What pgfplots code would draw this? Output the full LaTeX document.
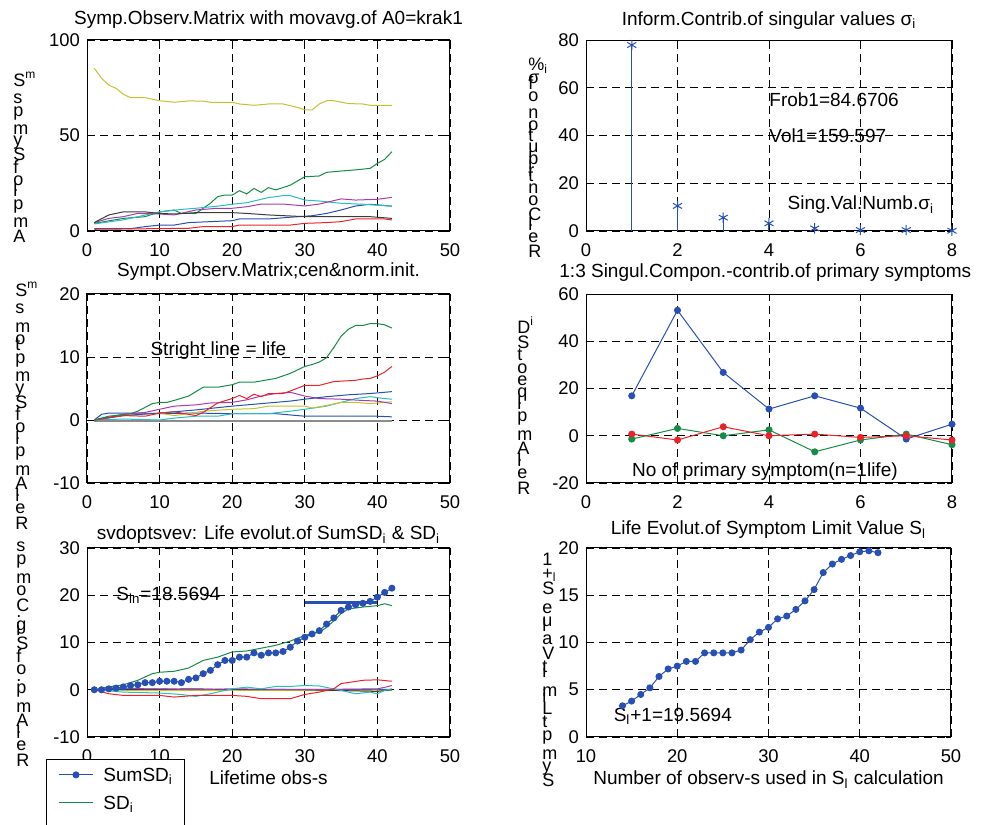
\documentclass[border=0pt]{standalone}
\usepackage{fontspec}
\setmainfont{Liberation Sans}
\usepackage{pgfplots}
\pgfplotsset{compat=1.18}
\definecolor{mb}{RGB}{40,80,180}
\definecolor{mg}{RGB}{20,140,70}
\definecolor{mr}{RGB}{235,35,40}
\definecolor{mc}{RGB}{40,190,195}
\definecolor{mm}{RGB}{170,60,170}
\definecolor{my}{RGB}{195,195,50}
\definecolor{mk}{RGB}{60,60,60}
\definecolor{mgr}{RGB}{140,140,140}
\newcommand\fsz{\fontsize{9.5}{11}\selectfont}
\newcommand\tsz{\fontsize{9.2}{11}\selectfont}
\newcommand\lsz{\fontsize{9}{11}\selectfont}
\makeatletter
\newdimen\vl@w
\def\vlfac{1.24}
\newcommand\vl@char[1]{\setbox\z@\hbox{#1}\vl@w=\vlfac\wd\z@\vbox to\vl@w{\vss\hbox{\smash{#1}}}}
\newcommand\vlab[2][1.24]{\def\vlfac{#1}\def\vl@acc{}\@tfor\vl@c:=#2\do{\edef\vl@acc{\noexpand\vl@char{\unexpanded\expandafter{\vl@c}}\unexpanded\expandafter{\vl@acc}}}\vbox{\offinterlineskip\lsz\vl@acc}}
\makeatother
\pgfplotsset{
  mat/.style={scale only axis, anchor=south west,
    axis line style={black,line width=0.5pt},
    tick align=inside, major tick length=2.5pt, tick style={black,line width=0.4pt},
    grid=major, major grid style={black,line width=0.4pt,dash pattern=on 4pt off 2.5pt},
    font=\fsz, every tick label/.append style={font=\tsz},
    xticklabel style={yshift=-3pt},
    every axis title/.style={at={(0.5,1)},anchor=base,font=\fsz,inner sep=0pt},
    every axis plot/.append style={line width=0.5pt},
    legend image code/.code={\draw[yshift=3.3pt,mark repeat=2,mark phase=2,##1] plot coordinates {(0pt,0pt) (8.5pt,0pt) (17pt,0pt)}; \path (22pt,3.3pt);}
  }
}
\begin{document}
\begin{tikzpicture}[font=\fsz]
\useasboundingbox (0,0) rectangle (491pt,412.5pt);
% ---------- top left
\begin{axis}[mat, at={(43.5pt,297pt)}, width=181.5pt, height=95.5pt,
  xmin=0,xmax=50,ymin=0,ymax=100,
  xtick={0,10,20,30,40,50}, xticklabels={0,10,20,30,40,50},
  ytick={0,50,100}, yticklabels={0,50,100},
  title={Symp.Observ.Matrix with movavg.of A0=krak1}, title style={yshift=7.5pt}]
\addplot[mb] coordinates {(1,1.2)(6,1.2)(8,2.3)(10,3.1)(12,3.1)(14,4.4)(20,5.4)(21,6.3)(25,6.3)(28,7.2)(31,8)(33,9.2)(35,11)(37,13.1)(39,14)(42,13)};
\addplot[mg] coordinates {(1,4)(5,6.6)(8,7.5)(10,10)(12,11)(13,9.2)(15,9.2)(17,14.5)(18,18)(19,18.8)(20,18.8)(21,21.1)(22,19.4)(23,22.3)(24,20.2)(25,22.7)(26,21.5)(28,24)(30,28.4)(32,28.8)(33,30.7)(35,31.4)(37,32)(39,32.8)(40,35.4)(41,37.5)(42,41.5)};
\addplot[mr] coordinates {(1,0.9)(14,1.4)(16,2.3)(20,2.3)(21,3.1)(28,3.1)(30,4)(33,4.4)(35,4.9)(37,6.3)(41,6.3)(42,5.8)};
\addplot[mc] coordinates {(1,3.7)(5,5.8)(10,10)(13,11.3)(15,11.9)(18,13)(20,14)(22,14.8)(25,17.5)(27,18.5)(28,18.5)(30,16.2)(32,15.7)(35,14.5)(38,14)(42,13)};
\addplot[mm] coordinates {(1,4.4)(3,6.6)(5,7.5)(7,9.2)(10,8.9)(12,8.4)(15,11)(18,11.9)(20,11.9)(22,12.7)(24,14.1)(27,14.1)(30,13.1)(32,14.1)(35,16.8)(37,16.2)(40,16.6)(42,17.6)};
\addplot[my] coordinates {(1,85.2)(2,80)(3,76.4)(4,74.7)(5,71.6)(6,69.8)(8,69.8)(10,68.2)(12,67.4)(14,68.1)(16,68)(17,67.4)(20,67.4)(21,66.5)(23,65.8)(25,66.5)(27,66.5)(29,64.7)(30,63.4)(31,63.4)(32,66.5)(33,68.2)(34,68.2)(36,66.7)(38,66.5)(39,65.8)(42,65.8)};
\addplot[mk] coordinates {(1,4.4)(3,8.4)(5,10)(8,10)(10,9.2)(12,8.9)(15,9.6)(20,9.6)(22,9.2)(25,8.4)(30,7.5)(35,7.5)(39,7.5)(42,6.6)};
\end{axis}
% ---------- top right
\begin{axis}[mat, at={(293pt,297pt)}, width=183pt, height=95.5pt,
  xmin=0,xmax=8,ymin=0,ymax=80,
  xtick={0,2,4,6,8}, xticklabels={0,2,4,6,8},
  ytick={0,20,40,60,80}, yticklabels={0,20,40,60,80},
  title={Inform.Contrib.of singular values σ\textsubscript{i}}, title style={yshift=7.5pt}]
\addplot[mb, ycomb, mark=asterisk, mark size=2.6pt] coordinates {(1,77.9)(2,10.5)(3,5.6)(4,3.2)(5,1.1)(6,0.4)(7,0.4)(8,0.1)};
\node[anchor=west,inner sep=0pt] at (axis cs:4,55) {Frob1=84.6706};
\node[anchor=west,inner sep=0pt] at (axis cs:4,40) {Vol1=159.597};
\node[anchor=west,inner sep=0pt] at (axis cs:4.4,11) {Sing.Val.Numb.σ\textsubscript{i}};
\end{axis}
% ---------- middle left
\begin{axis}[mat, at={(43.5pt,171pt)}, width=181.5pt, height=94.5pt,
  xmin=0,xmax=50,ymin=-10,ymax=20,
  xtick={0,10,20,30,40,50}, xticklabels={0,10,20,30,40,50},
  ytick={-10,0,10,20}, yticklabels={-10,0,10,20},
  title={Sympt.Observ.Matrix;cen\&norm.init.}, title style={yshift=8.5pt}]
\addplot[mgr, line width=0.8pt] coordinates {(1,-0.2)(10,-0.2)(20,-0.2)(30,-0.2)(42,-0.2)};
\addplot[mb] coordinates {(1,0)(2,0.9)(3,1.1)(7,1.1)(10,1)(15,1.1)(20,1)(26,1)(30,0.6)(40,0.6)(42,0.5)};
\addplot[mc] coordinates {(1,0)(5,0.15)(10,0)(12,0.3)(15,0.6)(18,0.6)(20,1)(25,1)(28,1.4)(30,1.7)(33,2.2)(35,2.8)(37,3.4)(39,3.7)(41,3.4)(42,3.3)};
\addplot[my] coordinates {(1,0)(5,0.7)(10,1.1)(12,0.7)(14,1)(16,1.4)(20,1.7)(23,1.8)(25,2.2)(30,2.2)(31,1.9)(33,2.3)(35,2.8)(37,2.8)(39,2.6)(42,2.9)};
\addplot[mm] coordinates {(1,0)(5,0.9)(8,1.2)(10,1.7)(12,2.2)(15,2.4)(17,2.7)(20,2.8)(22,3.2)(24,3.8)(26,4.2)(28,4.4)(30,3.8)(32,3.4)(35,3.3)(38,3.1)(40,3)(42,2.6)};
\addplot[mb] coordinates {(1,0)(5,0.7)(10,1.1)(15,1.6)(20,2.2)(25,2.7)(28,3)(30,3.3)(33,3.7)(36,4)(39,4.2)(42,4.5)};
\addplot[mr] coordinates {(1,0)(5,0.7)(8,0.6)(10,1.1)(12,1.3)(14,0.9)(15,0.7)(16,1.2)(18,2.7)(20,3.4)(21,3.9)(22,3.4)(23,4.1)(24,3.7)(25,4.2)(27,4.2)(28,4.6)(30,5.5)(32,5.5)(34,6.1)(37,6.3)(38,6.5)(39,6.6)(40,7)(41,7.6)(42,8.5)};
\addplot[mg] coordinates {(1,0)(3,0.6)(6,1)(7,1.4)(9,2.6)(10,2.8)(11,2.8)(12,3.1)(14,3.8)(16,5.2)(18,5.2)(20,5.6)(21,6)(23,6)(26,6.6)(28,7.4)(30,8.5)(31,8.8)(32,9.2)(33,9.9)(34,11.5)(35,13.3)(36,14.4)(37,15)(38,15)(39,15.3)(40,15.3)(41,15.1)(42,14.6)};
\node[anchor=west,inner sep=0pt] at (axis cs:8.7,11) {Stright line = life};
\end{axis}
% ---------- middle right
\begin{axis}[mat, at={(293pt,171pt)}, width=183pt, height=94.5pt,
  xmin=0,xmax=8,ymin=-20,ymax=60,
  xtick={0,2,4,6,8}, xticklabels={0,2,4,6,8},
  ytick={-20,0,20,40,60}, yticklabels={-20,0,20,40,60},
  title={1:3 Singul.Compon.-contrib.of primary symptoms}, title style={at={(0.49,1)},yshift=8.5pt}]
\addplot[mb, mark=*, mark size=1.5pt] coordinates {(1,16.9)(2,53.1)(3,26.8)(4,11.3)(5,16.9)(6,11.7)(7,-1.4)(8,4.9)};
\addplot[mg, mark=*, mark size=1.5pt] coordinates {(1,-1.4)(2,3.1)(3,0)(4,2.5)(5,-6.8)(6,-1.8)(7,0.7)(8,-3.8)};
\addplot[mr, mark=*, mark size=1.5pt] coordinates {(1,0.7)(2,-1.8)(3,3.8)(4,0)(5,0.7)(6,-0.7)(7,0)(8,-1.8)};
\node[anchor=west,inner sep=0pt] at (axis cs:1,-15) {No of primary symptom(n=1life)};
\end{axis}
% ---------- bottom left
\begin{axis}[mat, at={(43.5pt,44pt)}, width=181.5pt, height=94.5pt,
  xmin=0,xmax=50,ymin=-10,ymax=30,
  xtick={0,10,20,30,40,50}, xticklabels={0,10,20,30,40,50},
  ytick={-10,0,10,20,30}, yticklabels={-10,0,10,20,30},
  title={svdoptsvev: Life evolut.of SumSD\textsubscript{i} \& SD\textsubscript{i}}, title style={yshift=4pt},
  xlabel={Lifetime obs-s}, xlabel style={at={(0.5,0)},anchor=base,yshift=-24pt,inner sep=0pt},
  legend style={at={(-0.113,-0.1164)}, anchor=north west, draw=black, line width=0.5pt, fill=white,
    inner xsep=6pt, inner ysep=4pt, font=\fsz, row sep=0pt,
    nodes={inner sep=0pt, text height=7pt, text depth=7pt}},
  legend cell align=left]
\addplot[mb, forget plot] coordinates {(1,0)(5,0.2)(10,0.1)(20,0)(30,0.1)(42,0.1)};
\addplot[my, forget plot] coordinates {(1,0)(5,-0.1)(10,-0.2)(20,-0.1)(30,-0.2)(40,-0.1)(42,-0.2)};
\addplot[mk, forget plot] coordinates {(1,0)(10,0.1)(15,0.2)(20,0)(30,0)(40,-0.35)(42,0)};
\addplot[mm, forget plot] coordinates {(1,0)(3,0.6)(5,0.4)(8,0.2)(10,0.2)(15,0)(20,0.2)(30,0)(40,0.2)(41,0.5)(42,0.9)};
\addplot[mc, forget plot] coordinates {(1,0)(5,-0.5)(10,-0.7)(13,-1)(15,-1.4)(17,-0.85)(20,0.2)(22,0.55)(24,0.2)(26,0.7)(28,0.7)(30,0.9)(32,0.8)(35,-0.15)(37,-0.85)(39,-0.5)(40,-0.85)(41,-0.15)(42,0.2)};
\addplot[mr, forget plot] coordinates {(1,0)(3,-0.85)(5,-1.2)(10,-1.2)(12,-1.55)(15,-1.2)(20,-1.2)(22,-1.4)(24,-1.9)(28,-1.9)(30,-1)(32,-0.5)(34,0.2)(35,1.3)(38,2)(40,2.1)(42,1.8)};
\addplot[mb, mark=*, mark size=1.5pt] coordinates {(1,0)(2,0)(3,0.2)(4,0.35)(5,0.6)(6,0.9)(7,1.05)(8,1.5)(9,1.5)(10,1.8)(11,1.8)(12,1.8)(13,1.5)(14,2.2)(15,2.5)(16,3.4)(17,4.1)(18,5.3)(19,6.2)(20,6.2)(21,6.9)(22,6.9)(23,7.8)(24,7.3)(25,7.8)(26,7.8)(27,8.1)(28,9.0)(29,10.3)(30,11.1)(31,11.8)(32,12.5)(33,13.9)(34,15.2)(35,16.8)(36,17.5)(37,18.0)(38,18.3)(39,18.7)(40,19.6)(41,20.6)(42,21.5)};
\addlegendentry{SumSD\textsubscript{i}}
\addplot[mg] coordinates {(1,0)(3,0.6)(5,1.05)(7,2)(9,3.4)(10,3.7)(12,3.9)(14,4.6)(16,6.2)(18,6.9)(20,8)(22,8.2)(24,8.8)(26,9.4)(28,10.3)(30,11.5)(32,12.2)(33,13.2)(34,14.6)(35,16.1)(36,17.1)(38,17.5)(40,17.8)(41,18.2)(42,17.8)};
\addlegendentry{SD\textsubscript{i}}
\addplot[mb, line width=1.5pt, forget plot] coordinates {(30,18.5694)(40,18.5694)};
\addlegendimage{empty legend}
\addlegendentry{}
\node[anchor=west,inner sep=0pt] at (axis cs:4,20) {S\textsubscript{ln}=18.5694};
\end{axis}
% ---------- bottom right
\begin{axis}[mat, at={(293pt,44pt)}, width=182.5pt, height=94.5pt,
  xmin=10,xmax=50,ymin=0,ymax=20,
  xtick={10,20,30,40,50}, xticklabels={10,20,30,40,50},
  ytick={0,5,10,15,20}, yticklabels={0,5,10,15,20},
  title={Life Evolut.of Symptom Limit Value S\textsubscript{l}}, title style={yshift=6.5pt},
  xlabel={Number of observ-s used in S\textsubscript{l} calculation}, xlabel style={at={(0.5,0)},anchor=base,yshift=-24pt,inner sep=0pt}]
\addplot[mb, mark=*, mark size=1.5pt] coordinates {(14,3.3)(15,3.8)(16,4.5)(17,5.2)(18,6.4)(19,7.2)(20,7.5)(21,8.0)(22,8.0)(23,8.9)(24,8.9)(25,8.9)(26,8.9)(27,9.2)(28,10.3)(29,11.1)(30,11.6)(31,12.5)(32,12.8)(33,13.5)(34,14.4)(35,15.6)(36,17.4)(37,18.3)(38,18.8)(39,19.2)(40,19.6)(41,19.7)(42,19.5)};
\node[anchor=west,inner sep=0pt] at (axis cs:13,2.2) {S\textsubscript{l}+1=19.5694};
\end{axis}
% ---------- stacked y labels
\node[anchor=south west,inner sep=0pt] at (6.5pt,291pt) {\vlab{Ampl.of~Symps~{S\textsuperscript{m}}}};
\node[anchor=south west,inner sep=0pt] at (264pt,283.5pt) {\vlab[1.165]{Rel.Contribution~ofσ{\%\textsubscript{i}}}};
\node[anchor=south west,inner sep=0pt] at (7.5pt,147.5pt) {\vlab{Rel.Ampl.of~Symptoms~{S\textsuperscript{m}}}};
\node[anchor=south west,inner sep=0pt] at (258.5pt,165pt) {\vlab{Rel.Ampl.qeot~S{D\textsuperscript{i}}}};
\node[anchor=south west,inner sep=0pt] at (8pt,29pt) {\vlab{Rel.Amp.of~Sig.Comps}};
\node[anchor=south west,inner sep=0pt] at (271pt,19pt) {\vlab[1.28]{Sympt.Limit~Value~S{+\rlap{\textsubscript{l}}}1}};
\end{tikzpicture}
\end{document}
